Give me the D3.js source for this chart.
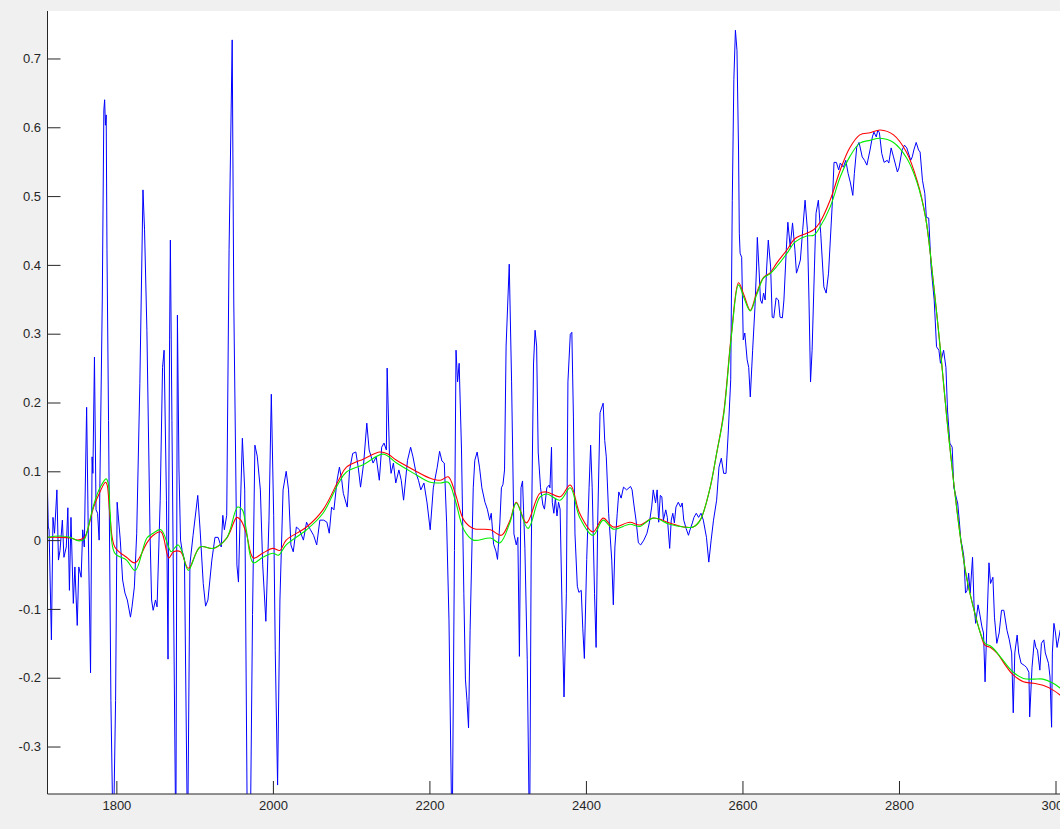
<!DOCTYPE html>
<html>
<head>
<meta charset="utf-8">
<script src="https://cdn.jsdelivr.net/npm/d3@7"></script>
<style>
  html, body { margin: 0; padding: 0; background: #f0f0f0; overflow: hidden; }
  svg { display: block; }
</style>
</head>
<body>
<svg id="chart" width="1060" height="829"></svg>
<script>
// ---- data ----
const waveNumber = [1712,1713,1714,1717,1719,1721,1724,1726,1728,1731,1733,1736,1738,1740,1742,1745,1747,1750,1752,1755,1757,1759,1762,1764,1767,1769,1770,1772,1774,1776,1778,1782,1784,1785,1786,1787,1788,1790,1793,1796,1799,1801,1805,1808,1811,1814,1818,1820,1823,1826,1830,1834,1836,1839,1843,1845,1847,1850,1852,1856,1859,1861,1864,1866,1868,1869,1871,1876,1878,1880,1882,1884,1887,1891,1894,1898,1904,1907,1911,1914,1917,1922,1926,1930,1934,1936,1938,1941,1944,1948,1950,1954,1956,1958,1961,1964,1967,1971,1974,1977,1980,1984,1987,1991,1995,1998,2001,2003,2006,2009,2013,2017,2020,2023,2026,2030,2034,2039,2043,2048,2052,2056,2060,2065,2069,2072,2075,2078,2082,2085,2088,2090,2095,2098,2102,2106,2109,2112,2116,2120,2123,2128,2132,2136,2139,2142,2145,2146,2149,2151,2154,2157,2161,2164,2167,2172,2176,2179,2183,2186,2189,2193,2197,2201,2205,2210,2213,2216,2219,2222,2225,2229,2232,2234,2236,2238,2241,2244,2246,2248,2250,2252,2256,2258,2261,2264,2267,2271,2274,2277,2279,2282,2285,2287,2290,2292,2294,2296,2298,2302,2305,2308,2311,2313,2315,2317,2319,2322,2325,2328,2330,2333,2335,2337,2339,2342,2345,2347,2350,2353,2354,2356,2357,2359,2361,2363,2365,2367,2370,2372,2375,2377,2380,2382,2384,2386,2389,2391,2394,2396,2398,2401,2404,2406,2408,2411,2413,2415,2418,2422,2424,2426,2429,2433,2435,2437,2440,2442,2445,2448,2452,2457,2459,2461,2464,2467,2470,2474,2478,2481,2484,2486,2489,2491,2493,2495,2497,2499,2502,2504,2507,2509,2511,2513,2515,2518,2521,2523,2525,2528,2531,2533,2536,2538,2541,2544,2547,2550,2554,2557,2560,2563,2567,2570,2573,2576,2579,2582,2585,2587,2589,2591,2593,2595,2596,2597,2599,2601,2603,2606,2608,2610,2613,2616,2618,2619,2621,2623,2625,2627,2629,2631,2633,2636,2638,2640,2643,2646,2648,2651,2653,2656,2658,2661,2664,2667,2669,2671,2674,2677,2680,2683,2685,2687,2689,2692,2694,2697,2700,2704,2707,2710,2715,2717,2720,2723,2725,2729,2732,2735,2738,2741,2743,2746,2749,2753,2756,2759,2763,2766,2768,2771,2773,2775,2778,2781,2785,2787,2790,2793,2798,2800,2804,2807,2810,2815,2817,2819,2822,2825,2827,2830,2833,2835,2838,2841,2845,2848,2851,2853,2857,2860,2862,2865,2868,2870,2874,2875,2877,2879,2881,2883,2885,2887,2889,2891,2894,2896,2898,2901,2903,2906,2908,2910,2912,2915,2917,2920,2922,2925,2928,2931,2934,2938,2941,2944,2946,2948,2951,2953,2956,2960,2963,2966,2967,2970,2973,2975,2977,2980,2982,2985,2987,2991,2993,2995,2996,2998,3000,3002,3006,3009];
const signal = [0.073,0.019,0.015,-0.145,0.033,0.010,0.073,-0.029,-0.015,0.029,-0.025,-0.010,0.047,-0.073,0.033,-0.092,-0.039,-0.124,-0.039,-0.054,0.015,-0.010,0.193,0.019,-0.193,0.121,0.097,0.266,0.044,0.039,0.000,0.349,0.625,0.640,0.603,0.618,0.422,0.174,-0.233,-0.451,-0.233,0.055,0.000,-0.058,-0.077,-0.087,-0.112,-0.097,-0.068,0.010,0.228,0.509,0.451,0.305,0.010,-0.087,-0.102,-0.087,-0.097,0.058,0.251,0.276,0.058,-0.173,0.291,0.436,0.174,-0.451,0.327,0.102,0.000,-0.015,-0.029,-0.451,-0.035,0.007,0.065,0.015,-0.063,-0.096,-0.087,-0.029,0.004,0.004,-0.010,0.036,0.015,0.036,0.422,0.727,0.349,-0.036,-0.061,0.029,0.148,0.073,-0.378,-0.451,-0.108,0.138,0.122,0.073,-0.036,-0.118,0.029,0.212,0.036,-0.160,-0.356,-0.087,0.073,0.100,0.073,-0.007,-0.017,0.019,0.015,0.000,0.026,0.015,0.007,-0.007,0.029,0.029,0.026,0.010,0.048,0.044,0.087,0.106,0.087,0.068,0.048,0.102,0.126,0.128,0.106,0.077,0.112,0.170,0.131,0.112,0.121,0.087,0.135,0.141,0.131,0.250,0.121,0.097,0.112,0.083,0.102,0.087,0.058,0.116,0.135,0.121,0.097,0.087,0.073,0.083,0.054,0.015,0.076,0.106,0.129,0.115,0.112,0.025,-0.116,-0.451,-0.015,0.276,0.230,0.257,0.131,-0.078,-0.202,-0.233,-0.273,-0.131,0.076,0.116,0.128,0.106,0.076,0.055,0.045,0.029,0.039,-0.006,-0.016,-0.028,0.025,0.076,0.081,0.102,0.282,0.401,0.230,0.009,-0.007,0.004,-0.169,0.076,0.086,-0.012,-0.174,-0.451,-0.029,0.256,0.305,0.282,0.128,0.076,0.051,0.045,0.076,0.080,0.076,0.135,0.055,0.039,0.061,0.035,0.055,0.045,-0.129,-0.228,-0.078,0.230,0.299,0.302,0.179,0.009,-0.067,-0.076,-0.073,-0.129,-0.172,-0.028,0.076,0.138,0.076,-0.078,-0.156,0.025,0.185,0.199,0.145,0.121,0.039,-0.029,-0.094,-0.010,0.039,0.070,0.061,0.077,0.073,0.078,0.073,0.054,0.029,-0.004,-0.007,0.000,0.010,0.025,0.048,0.073,0.054,0.073,0.026,0.065,0.063,0.029,0.044,0.033,-0.012,0.029,0.039,0.025,0.048,0.055,0.048,0.054,0.029,0.017,0.007,0.015,0.025,0.033,0.039,0.033,0.039,0.029,0.004,-0.032,0.000,0.029,0.058,0.106,0.119,0.097,0.097,0.160,0.233,0.494,0.669,0.741,0.712,0.567,0.446,0.417,0.411,0.291,0.301,0.262,0.251,0.208,0.276,0.339,0.397,0.440,0.397,0.349,0.344,0.359,0.349,0.397,0.436,0.397,0.324,0.323,0.352,0.349,0.324,0.323,0.349,0.422,0.462,0.426,0.461,0.422,0.388,0.395,0.407,0.451,0.494,0.451,0.349,0.230,0.276,0.397,0.475,0.494,0.446,0.368,0.359,0.388,0.494,0.549,0.549,0.538,0.548,0.542,0.552,0.533,0.519,0.501,0.533,0.571,0.578,0.557,0.552,0.545,0.567,0.586,0.593,0.586,0.596,0.592,0.562,0.549,0.552,0.548,0.570,0.557,0.535,0.541,0.567,0.574,0.570,0.552,0.557,0.567,0.578,0.567,0.564,0.523,0.504,0.469,0.468,0.397,0.349,0.281,0.276,0.257,0.276,0.251,0.189,0.141,0.135,0.077,0.058,0.054,0.029,0.000,-0.010,-0.025,-0.077,-0.073,-0.048,-0.077,-0.025,-0.097,-0.121,-0.094,-0.106,-0.126,-0.135,-0.206,-0.135,-0.033,-0.063,-0.054,-0.112,-0.150,-0.135,-0.102,-0.102,-0.131,-0.145,-0.164,-0.251,-0.164,-0.138,-0.164,-0.179,-0.182,-0.185,-0.192,-0.257,-0.185,-0.145,-0.156,-0.160,-0.189,-0.150,-0.145,-0.164,-0.179,-0.199,-0.272,-0.164,-0.121,-0.135,-0.156,-0.131,-0.145];

const redX = [1712,1728,1741,1751,1759,1762,1771,1779,1786,1788,1792,1798,1813,1824,1839,1847,1857,1867,1873,1882,1892,1907,1924,1941,1954,1959,1966,1975,1987,2000,2009,2017,2043,2064,2084,2094,2116,2137,2147,2158,2180,2201,2214,2224,2233,2244,2256,2278,2292,2303,2311,2324,2341,2350,2367,2380,2392,2409,2422,2435,2456,2469,2486,2507,2525,2537,2546,2558,2567,2576,2586,2595,2602,2610,2618,2627,2635,2644,2657,2667,2682,2691,2699,2712,2725,2737,2750,2763,2776,2793,2810,2823,2834,2844,2853,2861,2870,2879,2887,2896,2904,2910,2917,2925,2938,2946,2959,2972,2984,2997,3009];
const redY = [0.004,0.004,0.003,0.000,0.004,0.010,0.048,0.070,0.084,0.081,0.033,-0.010,-0.025,-0.033,-0.004,0.007,0.012,-0.026,-0.017,-0.017,-0.041,-0.010,-0.012,0.003,0.033,0.029,0.010,-0.026,-0.019,-0.012,-0.015,0.000,0.019,0.044,0.087,0.106,0.118,0.128,0.125,0.116,0.102,0.090,0.087,0.092,0.068,0.029,0.017,0.015,0.007,0.029,0.055,0.025,0.068,0.070,0.063,0.080,0.039,0.012,0.032,0.019,0.026,0.022,0.032,0.025,0.019,0.019,0.029,0.073,0.126,0.185,0.301,0.374,0.356,0.334,0.359,0.382,0.388,0.403,0.422,0.438,0.446,0.451,0.462,0.494,0.538,0.570,0.589,0.592,0.596,0.589,0.563,0.523,0.469,0.374,0.276,0.179,0.083,0.000,-0.058,-0.102,-0.135,-0.153,-0.156,-0.164,-0.185,-0.196,-0.206,-0.208,-0.211,-0.218,-0.228];

const greenX = [1712,1728,1741,1751,1759,1762,1771,1779,1787,1790,1792,1798,1813,1824,1839,1847,1857,1870,1874,1879,1884,1892,1907,1924,1941,1955,1961,1966,1975,1987,2000,2007,2017,2043,2064,2084,2094,2116,2141,2158,2180,2201,2214,2224,2233,2244,2256,2278,2290,2303,2311,2326,2341,2350,2367,2380,2392,2409,2422,2435,2456,2469,2486,2507,2525,2537,2546,2558,2567,2576,2586,2595,2602,2610,2618,2627,2635,2644,2657,2667,2682,2691,2699,2712,2725,2737,2750,2763,2776,2793,2810,2823,2834,2844,2853,2861,2870,2879,2887,2896,2904,2910,2917,2925,2938,2946,2959,2972,2984,2997,3009];
const greenY = [0.004,0.006,0.004,-0.001,0.001,0.010,0.051,0.076,0.089,0.080,0.041,-0.019,-0.029,-0.044,0.003,0.010,0.015,-0.017,-0.012,-0.007,-0.017,-0.044,-0.010,-0.012,0.003,0.048,0.044,0.015,-0.033,-0.025,-0.019,-0.022,-0.007,0.015,0.039,0.083,0.099,0.110,0.125,0.112,0.097,0.084,0.083,0.084,0.058,0.015,0.000,0.003,-0.004,0.026,0.054,0.017,0.062,0.067,0.058,0.076,0.033,0.007,0.029,0.016,0.023,0.020,0.032,0.023,0.019,0.019,0.029,0.073,0.126,0.182,0.298,0.371,0.352,0.333,0.356,0.381,0.387,0.398,0.417,0.433,0.442,0.443,0.455,0.484,0.528,0.557,0.577,0.581,0.584,0.578,0.555,0.520,0.469,0.374,0.276,0.179,0.083,0.000,-0.058,-0.102,-0.135,-0.150,-0.154,-0.163,-0.182,-0.192,-0.201,-0.202,-0.202,-0.208,-0.218];

const xTicks = [1800,2000,2200,2400,2600,2800,3000];
const yTicks = [-0.3,-0.2,-0.1,0,0.1,0.2,0.3,0.4,0.5,0.6,0.7];

// ---- layout ----
const W = 1060, H = 829;
const mLeft = 47.5, mTop = 11, mBottom = 794;
const svg = d3.select("#chart");

const x = d3.scaleLinear().domain([1712, 3000]).range([mLeft, 1055.5]);
const y = d3.scaleLinear().domain([-0.369, 0.769]).range([mBottom, mTop]);

// axes background
svg.append("rect").attr("x", mLeft).attr("y", mTop)
  .attr("width", W - mLeft + 10).attr("height", mBottom - mTop).attr("fill", "#ffffff");

svg.append("clipPath").attr("id", "clip").append("rect")
  .attr("x", mLeft).attr("y", mTop).attr("width", W - mLeft + 10).attr("height", mBottom - mTop);

const plot = svg.append("g").attr("clip-path", "url(#clip)");

function series(xs, ys) { return xs.map((v, i) => [v, ys[i]]); }

const lineLin = d3.line().x(d => x(d[0])).y(d => y(d[1]));
const lineSmooth = d3.line().x(d => x(d[0])).y(d => y(d[1])).curve(d3.curveCatmullRom.alpha(0.5));

plot.append("path").datum(series(waveNumber, signal))
  .attr("d", lineLin).attr("fill", "none").attr("stroke", "#0000ff")
  .attr("stroke-width", 1.0).attr("stroke-linejoin", "round");

plot.append("path").datum(series(redX, redY))
  .attr("d", lineSmooth).attr("fill", "none").attr("stroke", "#ff0000")
  .attr("stroke-width", 1.1);

plot.append("path").datum(series(greenX, greenY))
  .attr("d", lineSmooth).attr("fill", "none").attr("stroke", "#00ee00")
  .attr("stroke-width", 1.1);

// axes
const tickLen = 13;
const xAxis = d3.axisBottom(x).tickValues(xTicks).tickSizeInner(-tickLen).tickSizeOuter(0)
  .tickPadding(7).tickFormat(d3.format("d"));
const gx = svg.append("g").attr("transform", `translate(0,${mBottom})`).call(xAxis);
gx.select(".domain").attr("d", `M${mLeft},0H${W + 5}`).attr("stroke", "#262626");
gx.selectAll(".tick line").attr("stroke", "#262626");
gx.selectAll(".tick text").attr("y", 7);

const fmtY = d => (d === 0 ? "0" : d3.format(".1f")(d).replace("\u2212", "-"));
const yAxis = d3.axisLeft(y).tickValues(yTicks).tickSizeInner(-tickLen).tickSizeOuter(0)
  .tickPadding(6.5).tickFormat(fmtY);
const gy = svg.append("g").attr("transform", `translate(${mLeft},0)`).call(yAxis);
gy.select(".domain").attr("d", `M0,${mTop}V${mBottom}`).attr("stroke", "#262626");
gy.selectAll(".tick line").attr("stroke", "#262626");
gy.selectAll(".tick text").attr("x", -6.5);
svg.selectAll(".tick text")
  .attr("font-family", '"Liberation Sans", Arial, sans-serif')
  .attr("font-size", 13).attr("fill", "#262626");
</script>
</body>
</html>
